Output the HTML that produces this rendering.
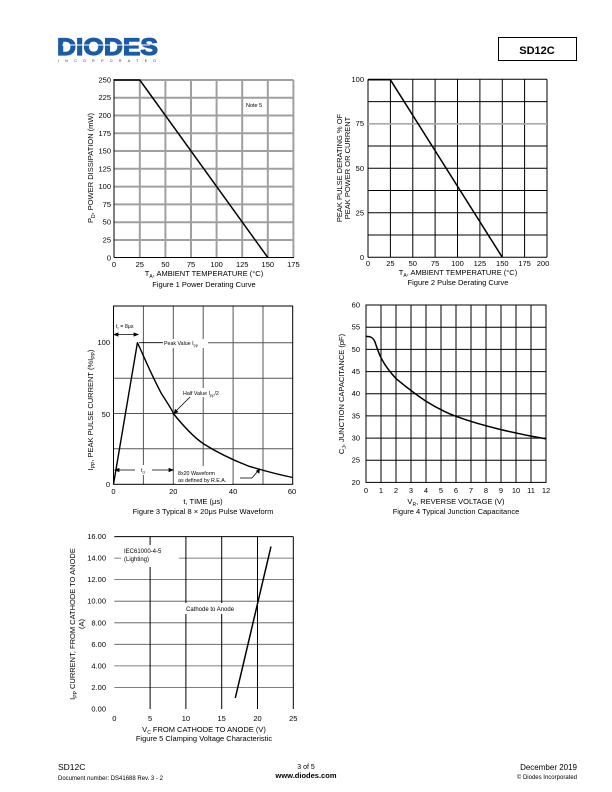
<!DOCTYPE html>
<html><head><meta charset="utf-8"><style>
html,body{margin:0;padding:0;background:#fff}
svg{display:block;font-family:"Liberation Sans",Arial,sans-serif}
</style></head><body>
<svg width="612" height="792" viewBox="0 0 612 792" xmlns="http://www.w3.org/2000/svg">
<!-- header -->
<text x="57" y="55" font-size="24" font-weight="bold" fill="#1b5aa6" stroke="#1b5aa6" stroke-width="1.2" textLength="101" lengthAdjust="spacingAndGlyphs">DIODES</text>
<line x1="62" y1="45" x2="150" y2="45" stroke="#fff" stroke-width="1"/>
<text x="58" y="62" font-size="3.6" fill="#333" textLength="98" lengthAdjust="spacing">INCORPORATED</text>
<rect x="498.5" y="37.5" width="78" height="23" fill="none" stroke="#000" stroke-width="1"/>
<text x="537" y="54" font-size="11" font-weight="bold" text-anchor="middle">SD12C</text>

<!-- FIG 1 -->
<g stroke="#a0a0a0" stroke-width="2">
<line x1="114" y1="97.7" x2="293.5" y2="97.7"/><line x1="114" y1="115.5" x2="293.5" y2="115.5"/><line x1="114" y1="133.3" x2="293.5" y2="133.3"/><line x1="114" y1="151" x2="293.5" y2="151"/><line x1="114" y1="168.8" x2="293.5" y2="168.8"/><line x1="114" y1="186.6" x2="293.5" y2="186.6"/><line x1="114" y1="204.4" x2="293.5" y2="204.4"/><line x1="114" y1="222.2" x2="293.5" y2="222.2"/><line x1="114" y1="240" x2="293.5" y2="240"/>
<line x1="139.8" y1="80" x2="139.8" y2="257.5"/><line x1="165.4" y1="80" x2="165.4" y2="257.5"/><line x1="191" y1="80" x2="191" y2="257.5"/><line x1="216.6" y1="80" x2="216.6" y2="257.5"/><line x1="242.2" y1="80" x2="242.2" y2="257.5"/><line x1="267.8" y1="80" x2="267.8" y2="257.5"/><line x1="293.4" y1="80" x2="293.4" y2="257.5"/>
<line x1="114" y1="80" x2="293.5" y2="80"/>
</g>
<line x1="114" y1="79" x2="114" y2="257.5" stroke="#000" stroke-width="1"/>
<line x1="114" y1="257.5" x2="294" y2="257.5" stroke="#000" stroke-width="1"/>
<polyline points="114,80 139.8,80 267.8,257.5" fill="none" stroke="#000" stroke-width="1.5"/>
<text x="246" y="107" font-size="5.5">Note 5</text>
<g font-size="7.5" text-anchor="end">
<text x="111" y="82.5">250</text><text x="111" y="100.2">225</text><text x="111" y="118">200</text><text x="111" y="135.8">175</text><text x="111" y="153.5">150</text><text x="111" y="171.3">125</text><text x="111" y="189.1">100</text><text x="111" y="206.9">75</text><text x="111" y="224.7">50</text><text x="111" y="242.5">25</text><text x="111" y="260.3">0</text>
</g>
<g font-size="7.5" text-anchor="middle">
<text x="114" y="267">0</text><text x="139.8" y="267">25</text><text x="165.4" y="267">50</text><text x="191" y="267">75</text><text x="216.6" y="267">100</text><text x="242.2" y="267">125</text><text x="267.8" y="267">150</text><text x="293.4" y="267">175</text>
<text x="204" y="276">T<tspan font-size="5" dy="2">A</tspan><tspan dy="-2">, AMBIENT TEMPERATURE (°C)</tspan></text>
<text x="204" y="287">Figure 1  Power Derating Curve</text>
</g>
<text transform="translate(93,168) rotate(-90)" font-size="7.5" text-anchor="middle">P<tspan font-size="5" dy="2">D</tspan><tspan dy="-2">, POWER DISSIPATION (mW)</tspan></text>

<!-- FIG 2 -->
<g stroke="#000" stroke-width="1">
<line x1="368" y1="101.6" x2="547" y2="101.6"/><line x1="368" y1="146" x2="547" y2="146"/><line x1="368" y1="168.3" x2="547" y2="168.3"/><line x1="368" y1="190.5" x2="547" y2="190.5"/><line x1="368" y1="212.8" x2="547" y2="212.8"/><line x1="368" y1="235" x2="547" y2="235"/><line x1="368" y1="79.3" x2="547" y2="79.3"/><line x1="368" y1="257.3" x2="547" y2="257.3"/>
<line x1="368" y1="79.3" x2="368" y2="257.3"/><line x1="390.4" y1="79.3" x2="390.4" y2="257.3"/><line x1="412.8" y1="79.3" x2="412.8" y2="257.3"/><line x1="435.1" y1="79.3" x2="435.1" y2="257.3"/><line x1="457.5" y1="79.3" x2="457.5" y2="257.3"/><line x1="479.9" y1="79.3" x2="479.9" y2="257.3"/><line x1="502.3" y1="79.3" x2="502.3" y2="257.3"/><line x1="524.6" y1="79.3" x2="524.6" y2="257.3"/><line x1="547" y1="79.3" x2="547" y2="257.3"/>
</g>
<line x1="368" y1="123.8" x2="547" y2="123.8" stroke="#aaa" stroke-width="1.6"/>
<polyline points="368,79.8 390.4,79.8 502.3,257.3" fill="none" stroke="#000" stroke-width="1.5"/>
<g font-size="7.5" text-anchor="end">
<text x="364" y="82">100</text><text x="364" y="126">75</text><text x="364" y="170.8">50</text><text x="364" y="215.3">25</text><text x="364" y="259.8">0</text>
</g>
<g font-size="7.5" text-anchor="middle">
<text x="368" y="266">0</text><text x="390.4" y="266">25</text><text x="412.8" y="266">50</text><text x="435.1" y="266">75</text><text x="457.5" y="266">100</text><text x="479.9" y="266">125</text><text x="502.3" y="266">150</text><text x="524.6" y="266">175</text><text x="543" y="266">200</text>
<text x="458" y="275">T<tspan font-size="5" dy="2">A</tspan><tspan dy="-2">, AMBIENT TEMPERATURE (°C)</tspan></text>
<text x="458" y="285">Figure 2 Pulse Derating Curve</text>
</g>
<g font-size="7.5" text-anchor="middle">
<text transform="translate(342,168) rotate(-90)">PEAK PULSE DERATING % OF</text>
<text transform="translate(350,168) rotate(-90)">PEAK POWER OR CURRENT</text>
</g>

<!-- FIG 3 -->
<g stroke="#555" stroke-width="1">
<line x1="113.5" y1="448.8" x2="292.7" y2="448.8"/><line x1="113.5" y1="413.5" x2="292.7" y2="413.5"/><line x1="113.5" y1="378.2" x2="292.7" y2="378.2"/><line x1="165" y1="342.7" x2="292.7" y2="342.7"/>
<line x1="143.4" y1="306" x2="143.4" y2="484.3"/><line x1="173.3" y1="306" x2="173.3" y2="484.3"/><line x1="203.2" y1="306" x2="203.2" y2="484.3"/><line x1="233.1" y1="306" x2="233.1" y2="484.3"/><line x1="263" y1="306" x2="263" y2="484.3"/>
</g>
<rect x="113.5" y="306" width="179.2" height="178.3" fill="none" stroke="#000" stroke-width="1"/>
<rect x="163" y="339" width="45" height="9" fill="#fff"/>
<rect x="182" y="388" width="48" height="9" fill="#fff"/>
<rect x="176" y="466" width="56" height="18" fill="#fff"/>
<rect x="136" y="465" width="16" height="10" fill="#fff"/>
<path d="M113.5,484.3 L137.4,342.7 C142,352 150,372 161.3,393.4 C168,404 173,411 173.3,413.5 C185,428 195,438 203.2,443.6 C218,453 233,460 248,465.9 C263,470.5 278,474.5 292.7,477.5" fill="none" stroke="#000" stroke-width="1.4" stroke-linejoin="round"/>
<line x1="139" y1="342.7" x2="163" y2="342.7" stroke="#000" stroke-width="0.8"/>
<g stroke="#000" stroke-width="0.8" fill="#000">
<line x1="115" y1="334.5" x2="137" y2="334.5"/><path d="M114,334.5 l4,-1.5 v3z M138,334.5 l-4,-1.5 v3z"/>
<line x1="116" y1="470" x2="135" y2="470"/><line x1="152" y1="470" x2="172" y2="470"/><path d="M115,470 l4,-1.5 v3z M173,470 l-4,-1.5 v3z"/>
<line x1="190" y1="397" x2="175" y2="412"/><path d="M174,413.5 l1.3,-4 l2.5,2.5z"/>
<line x1="240" y1="478" x2="252" y2="478"/><line x1="252" y1="478" x2="258" y2="471"/><path d="M259.5,469 l-0.5,4 l-2.5,-2z"/>
</g>
<g font-size="5.3">
<text x="116" y="328">t<tspan font-size="4" dy="1.5">r</tspan><tspan dy="-1.5"> = 8μs</tspan></text>
<text x="164" y="345">Peak Value I<tspan font-size="4" dy="1.5">pp</tspan></text>
<text x="183" y="395">Half Value I<tspan font-size="4" dy="1.5">pp</tspan><tspan dy="-1.5">/2</tspan></text>
<text x="141" y="472">t<tspan font-size="4" dy="1.5">d</tspan></text>
<text x="178" y="475">8x20 Waveform</text>
<text x="178" y="482">as defined by R.E.A.</text>
</g>
<g font-size="7.5" text-anchor="end">
<text x="110" y="345">100</text><text x="110" y="417">50</text><text x="110" y="487">0</text>
</g>
<g font-size="7.5" text-anchor="middle">
<text x="113.5" y="494">0</text><text x="173.3" y="494">20</text><text x="233.1" y="494">40</text><text x="292" y="494">60</text>
<text x="203" y="504">t, TIME (μs)</text>
<text x="203" y="514">Figure 3 Typical 8 × 20μs Pulse Waveform</text>
</g>
<text transform="translate(93,410) rotate(-90)" font-size="7.5" text-anchor="middle">I<tspan font-size="5" dy="2">PP</tspan><tspan dy="-2">, PEAK PULSE CURRENT (%I</tspan><tspan font-size="5" dy="2">PP</tspan><tspan dy="-2">)</tspan></text>

<!-- FIG 4 -->
<g stroke="#000" stroke-width="1">
<line x1="366" y1="327.2" x2="546" y2="327.2"/><line x1="366" y1="349.4" x2="546" y2="349.4"/><line x1="366" y1="371.6" x2="546" y2="371.6"/><line x1="366" y1="393.7" x2="546" y2="393.7"/><line x1="366" y1="415.9" x2="546" y2="415.9"/><line x1="366" y1="438.1" x2="546" y2="438.1"/><line x1="366" y1="460.2" x2="546" y2="460.2"/>
<line x1="381" y1="305" x2="381" y2="482.4"/><line x1="396" y1="305" x2="396" y2="482.4"/><line x1="411" y1="305" x2="411" y2="482.4"/><line x1="426" y1="305" x2="426" y2="482.4"/><line x1="441" y1="305" x2="441" y2="482.4"/><line x1="456" y1="305" x2="456" y2="482.4"/><line x1="471" y1="305" x2="471" y2="482.4"/><line x1="486" y1="305" x2="486" y2="482.4"/><line x1="501" y1="305" x2="501" y2="482.4"/><line x1="516" y1="305" x2="516" y2="482.4"/><line x1="531" y1="305" x2="531" y2="482.4"/>
<rect x="366" y="305" width="180" height="177.4" fill="none"/>
</g>
<path d="M366,336.4 C370,336.5 373,337 375,342 C377,348 379,354 381,357.7 C385,366 390,372 396,378.6 C405,386 418,396 426,401.2 C440,410 452,415 456,416.3 C470,421.5 486,426 501,429.6 C516,433.2 531,436.3 546,438.9" fill="none" stroke="#000" stroke-width="1.5" stroke-linejoin="round"/>
<g font-size="7.5" text-anchor="end">
<text x="360" y="307.5">60</text><text x="360" y="329.7">55</text><text x="360" y="351.9">50</text><text x="360" y="374.1">45</text><text x="360" y="396.2">40</text><text x="360" y="418.4">35</text><text x="360" y="440.6">30</text><text x="360" y="462.7">25</text><text x="360" y="484.9">20</text>
</g>
<g font-size="7.5" text-anchor="middle">
<text x="366" y="493">0</text><text x="381" y="493">1</text><text x="396" y="493">2</text><text x="411" y="493">3</text><text x="426" y="493">4</text><text x="441" y="493">5</text><text x="456" y="493">6</text><text x="471" y="493">7</text><text x="486" y="493">8</text><text x="501" y="493">9</text><text x="516" y="493">10</text><text x="531" y="493">11</text><text x="546" y="493">12</text>
<text x="456" y="504">V<tspan font-size="5" dy="2">R</tspan><tspan dy="-2">, REVERSE VOLTAGE (V)</tspan></text>
<text x="456" y="514">Figure 4 Typical Junction Capacitance</text>
</g>
<text transform="translate(344,394) rotate(-90)" font-size="7.5" text-anchor="middle">C<tspan font-size="5" dy="2">J</tspan><tspan dy="-2">, JUNCTION CAPACITANCE (pF)</tspan></text>

<!-- FIG 5 -->
<g stroke="#555" stroke-width="0.8">
<line x1="114.3" y1="687.4" x2="293.3" y2="687.4"/><line x1="114.3" y1="665.9" x2="293.3" y2="665.9"/><line x1="114.3" y1="644.3" x2="293.3" y2="644.3"/><line x1="114.3" y1="622.8" x2="293.3" y2="622.8"/><line x1="114.3" y1="601.2" x2="293.3" y2="601.2"/><line x1="114.3" y1="579.6" x2="293.3" y2="579.6"/><line x1="114.3" y1="558.1" x2="293.3" y2="558.1"/>
</g>
<g stroke="#000" stroke-width="1">
<line x1="114.3" y1="536.6" x2="293.3" y2="536.6"/>
<line x1="150.1" y1="536.6" x2="150.1" y2="709"/><line x1="185.9" y1="536.6" x2="185.9" y2="709"/><line x1="221.7" y1="536.6" x2="221.7" y2="709"/><line x1="257.5" y1="536.6" x2="257.5" y2="709"/><line x1="293.3" y1="536.6" x2="293.3" y2="709"/>
</g>
<rect x="121" y="545" width="58" height="22" fill="#fff"/>
<rect x="184" y="603" width="62" height="11" fill="#fff"/>
<line x1="235.3" y1="698" x2="271" y2="546.5" stroke="#000" stroke-width="1.5"/>
<g font-size="6">
<text x="124" y="553">IEC61000-4-5</text>
<text x="124" y="561">(Lighting)</text>
<text x="186" y="611">Cathode to Anode</text>
</g>
<g font-size="7.5" text-anchor="end">
<text x="106" y="539">16.00</text><text x="106" y="560.6">14.00</text><text x="106" y="582.1">12.00</text><text x="106" y="603.7">10.00</text><text x="106" y="625.3">8.00</text><text x="106" y="646.8">6.00</text><text x="106" y="668.4">4.00</text><text x="106" y="689.9">2.00</text><text x="106" y="711.5">0.00</text>
</g>
<g font-size="7.5" text-anchor="middle">
<text x="114.3" y="721">0</text><text x="150.1" y="721">5</text><text x="185.9" y="721">10</text><text x="221.7" y="721">15</text><text x="257.5" y="721">20</text><text x="293.3" y="721">25</text>
<text x="204" y="732">V<tspan font-size="5" dy="2">C</tspan><tspan dy="-2"> FROM CATHODE TO ANODE (V)</tspan></text>
<text x="204" y="741">Figure 5 Clamping Voltage Characteristic</text>
</g>
<g font-size="7.5" text-anchor="middle">
<text transform="translate(75,624) rotate(-90)">I<tspan font-size="5" dy="2">PP</tspan><tspan dy="-2"> CURRENT, FROM CATHODE TO ANODE</tspan></text>
<text transform="translate(84,624) rotate(-90)">(A)</text>
</g>

<!-- footer -->
<text x="58" y="770" font-size="8.5">SD12C</text>
<text x="58" y="780" font-size="6">Document number: DS41688 Rev. 3 - 2</text>
<text x="306" y="769" font-size="7" text-anchor="middle">3 of 5</text>
<text x="306" y="778" font-size="7.5" font-weight="bold" text-anchor="middle">www.diodes.com</text>
<text x="577" y="770" font-size="8" text-anchor="end">December 2019</text>
<text x="577" y="779" font-size="6" text-anchor="end">© Diodes Incorporated</text>
</svg>
</body></html>
